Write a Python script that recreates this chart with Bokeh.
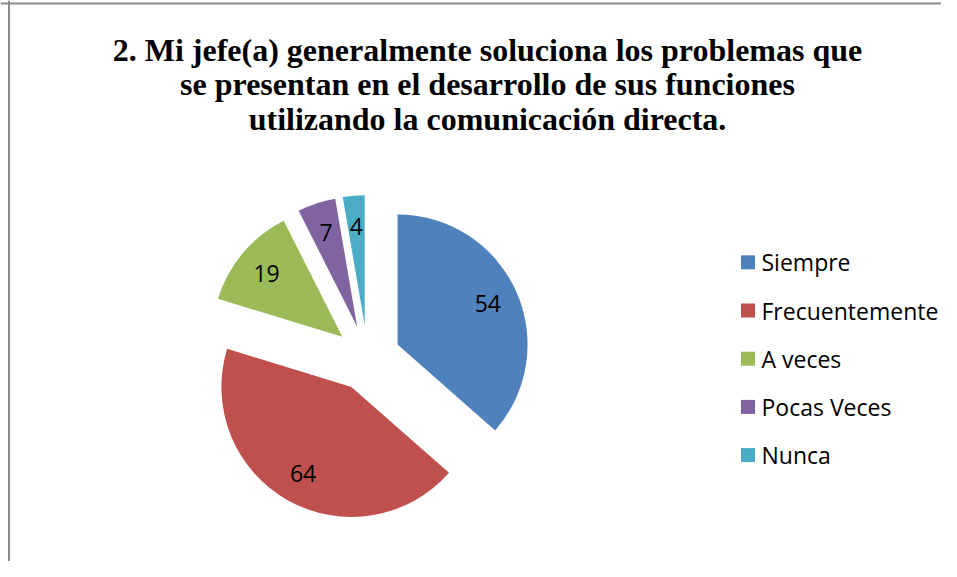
import numpy as np
from bokeh.plotting import figure
from bokeh.models import Range1d, Span, ColumnDataSource
from bokeh.core.properties import value
from bokeh.embed import file_html
from bokeh.resources import INLINE

title_lines = [
    "2. Mi jefe(a) generalmente soluciona los problemas que",
    "se presentan en el desarrollo de sus funciones",
    "utilizando la comunicación directa.",
]
categories = ["Siempre", "Frecuentemente", "A veces", "Pocas Veces", "Nunca"]
counts = [54, 64, 19, 7, 4]
colors = ["#4F81BD", "#C0504D", "#9BBB59", "#8064A2", "#4BACC6"]

W, H = 941, 561
OX, OY = 0, 0  # screenshot position of the figure's top-left corner


def sx(x):
    return x - OX


def sy(y):
    return H - (y - OY)


cx, cy = sx(367), sy(357.6)
R = 130
EXPLODE = 33
LABEL_DIST = 99

vals = np.array(counts, dtype=float)
frac = vals / vals.sum()
cum_end = np.cumsum(frac)
cum_start = cum_end - frac
start = np.pi / 2 - 2 * np.pi * cum_end
end = np.pi / 2 - 2 * np.pi * cum_start
mid = (start + end) / 2
wx = cx + EXPLODE * np.cos(mid)
wy = cy + EXPLODE * np.sin(mid)
lx = wx + LABEL_DIST * np.cos(mid)
ly = wy + LABEL_DIST * np.sin(mid)

src = ColumnDataSource(dict(
    x=wx, y=wy, start=start, end=end, color=colors,
    lx=lx, ly=ly, label=[str(c) for c in counts], cat=categories,
    legx=[sx(747.5)] * len(categories),
    legy=[sy(261.8 + 48.2 * i) for i in range(len(categories))],
    legtx=[sx(761)] * len(categories),
))

p = figure(width=W, height=H, x_range=Range1d(0, W), y_range=Range1d(0, H),
           output_backend="svg", toolbar_location=None, min_border=0,
           outline_line_color=None, background_fill_color="white",
           border_fill_color="white")
p.axis.visible = False
p.grid.visible = False

# frame (left and top edges)
p.add_layout(Span(location=sx(8.5), dimension="height", line_color="#8c8c8c", line_width=2))
p.add_layout(Span(location=sy(3), dimension="width", line_color="#8c8c8c", line_width=2))

p.wedge(x="x", y="y", radius=R, start_angle="start", end_angle="end",
        direction="anticlock", fill_color="color", line_color=None, source=src)

p.text(x="lx", y="ly", text="label", source=src, text_align="center",
       text_baseline="middle", text_font=value("Open Sans"), text_font_size="23px",
       text_color="black")

# title
p.text(x=[sx(487)] * len(title_lines),
       y=[sy(49 + 34.5 * i) for i in range(len(title_lines))],
       text=title_lines, text_align="center", text_baseline="alphabetic",
       text_font=value("Liberation Serif"), text_font_style="bold",
       text_font_size="32px", text_color="black")

# legend
p.rect(x="legx", y="legy", width=14, height=14, fill_color="color",
       line_color=None, source=src)
p.text(x="legtx", y="legy", text="cat", source=src, text_align="left",
       text_baseline="middle", text_font=value("Open Sans"), text_font_size="23px",
       text_color="black")

open("out.html", "w").write(file_html(p, INLINE))
